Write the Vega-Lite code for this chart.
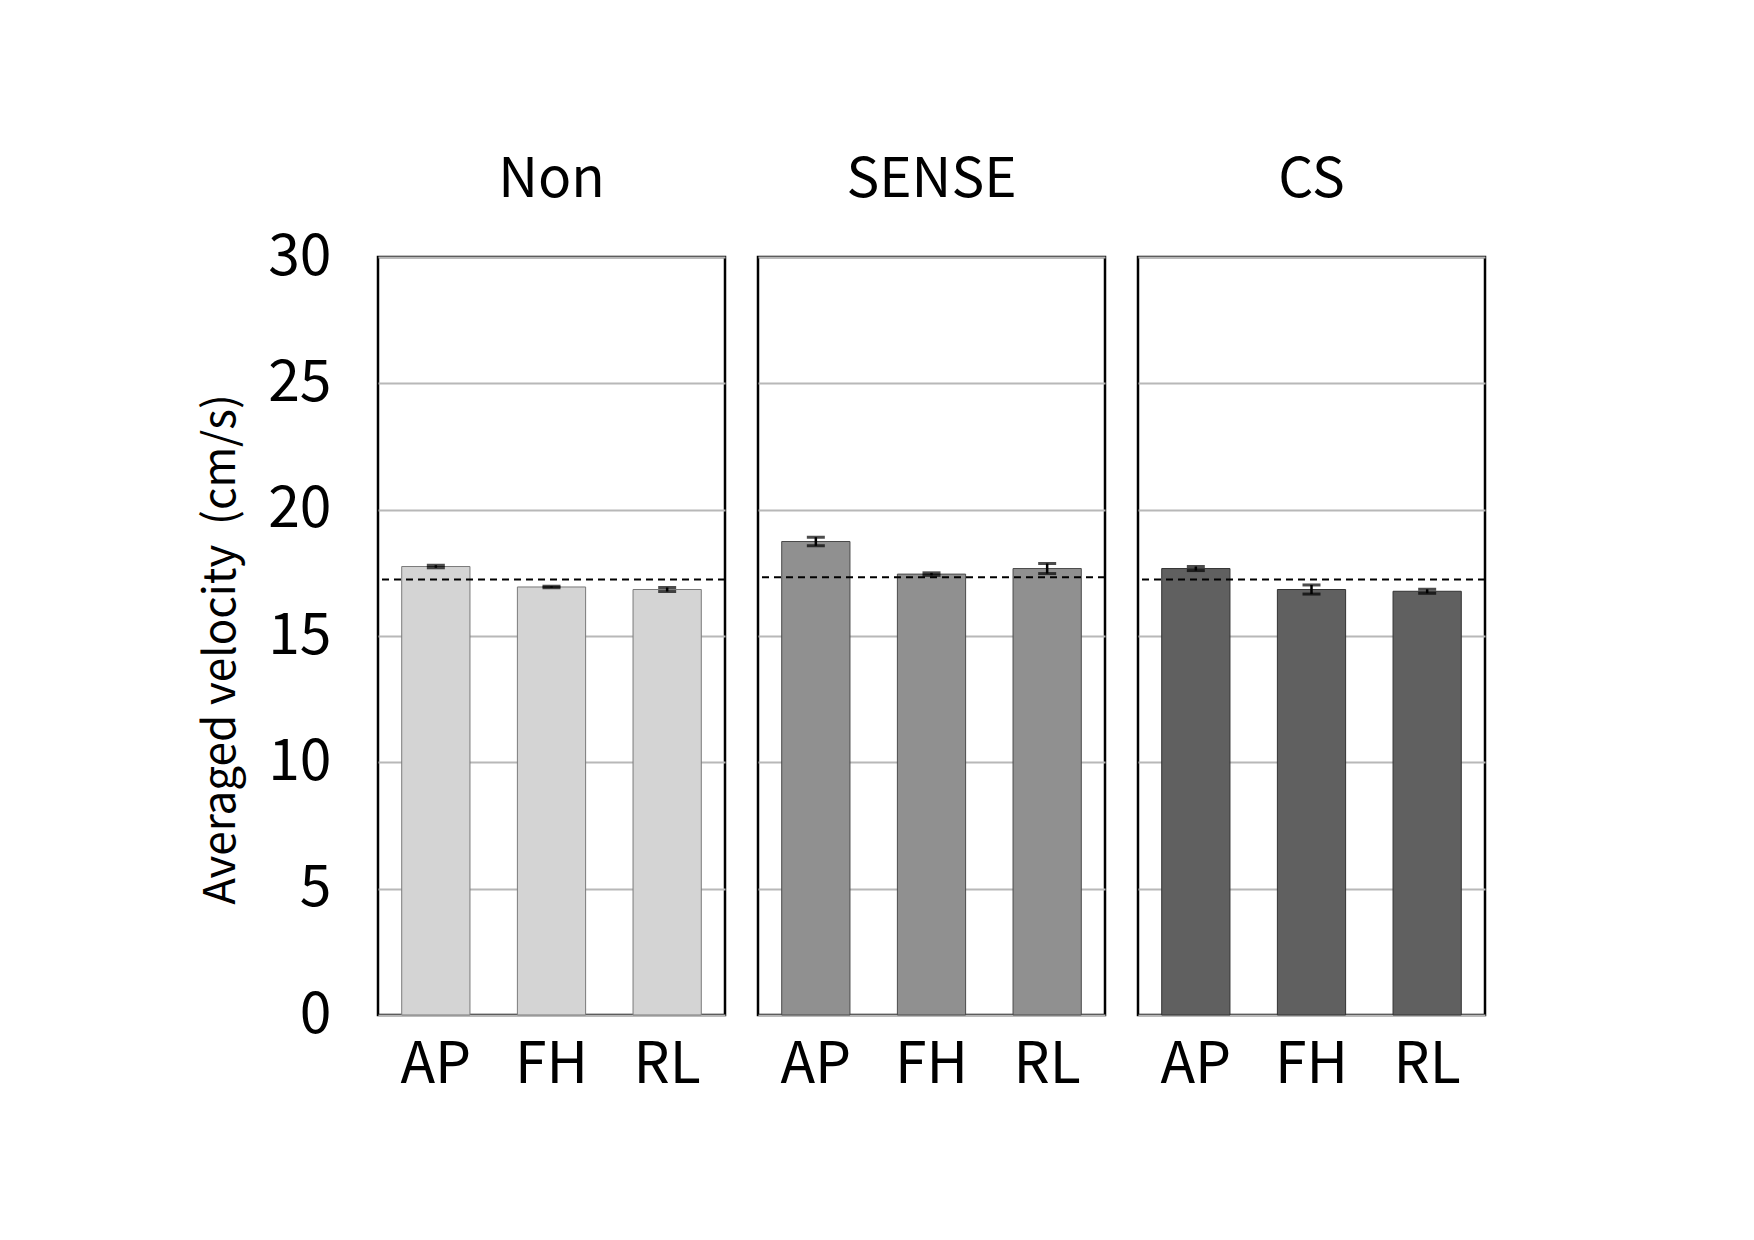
{
  "$schema": "https://vega.github.io/schema/vega-lite/v6.json",
  "padding": {"left": 199, "top": 153, "right": 20, "bottom": 20},
  "background": "white",
  "data": {
    "values": [
      {"method": "Non", "pos": "AP", "value": 17.75, "lo": 17.70, "hi": 17.80, "ref": 17.24},
      {"method": "Non", "pos": "FH", "value": 16.94, "lo": 16.91, "hi": 16.97, "ref": 17.24},
      {"method": "Non", "pos": "RL", "value": 16.84, "lo": 16.76, "hi": 16.92, "ref": 17.24},
      {"method": "SENSE", "pos": "AP", "value": 18.74, "lo": 18.57, "hi": 18.91, "ref": 17.33},
      {"method": "SENSE", "pos": "FH", "value": 17.45, "lo": 17.40, "hi": 17.50, "ref": 17.33},
      {"method": "SENSE", "pos": "RL", "value": 17.67, "lo": 17.47, "hi": 17.87, "ref": 17.33},
      {"method": "CS", "pos": "AP", "value": 17.67, "lo": 17.59, "hi": 17.75, "ref": 17.24},
      {"method": "CS", "pos": "FH", "value": 16.84, "lo": 16.66, "hi": 17.02, "ref": 17.24},
      {"method": "CS", "pos": "RL", "value": 16.77, "lo": 16.69, "hi": 16.85, "ref": 17.24}
    ]
  },
  "facet": {
    "column": {
      "field": "method",
      "type": "nominal",
      "sort": ["Non", "SENSE", "CS"],
      "header": {
        "title": null,
        "labelFontSize": 55,
        "labelFont": "Noto Sans CJK JP",
        "labelColor": "black",
        "labelPadding": 46
      }
    }
  },
  "spacing": 27,
  "spec": {
    "width": 347,
    "height": 758,
    "layer": [
      {
        "mark": {"type": "bar", "strokeWidth": 1},
        "encoding": {
          "x": {"field": "pos", "type": "nominal", "sort": ["AP", "FH", "RL"],
                "scale": {"paddingInner": 0.41, "paddingOuter": 0.205},
                "axis": {"title": null, "labelAngle": 0, "labelFontSize": 57, "labelFont": "Noto Sans CJK JP",
                         "labelColor": "black", "ticks": false, "tickSize": 0, "domain": false, "labelPadding": 22}},
          "y": {"field": "value", "type": "quantitative",
                "scale": {"domain": [0, 30]},
                "axis": {"title": "Averaged velocity\u00a0\u00a0(cm/s)", "values": [0, 5, 10, 15, 20, 25, 30],
                         "labelFontSize": 57, "labelFont": "Noto Sans CJK JP", "labelColor": "black",
                         "titleFontSize": 44, "titleFont": "Noto Sans CJK JP", "titleFontWeight": "normal",
                         "titleColor": "black", "titlePadding": 24, "titleY": 392,
                         "ticks": false, "tickSize": 0, "domain": false, "labelPadding": 44,
                         "grid": true, "gridColor": "#b8b8b8", "gridWidth": 2}},
          "color": {"field": "method", "type": "nominal", "legend": null,
                    "scale": {"domain": ["Non", "SENSE", "CS"], "range": ["#d4d4d4", "#909090", "#606060"]}},
          "stroke": {"field": "method", "type": "nominal", "legend": null,
                     "scale": {"domain": ["Non", "SENSE", "CS"], "range": ["#7a7a7a", "#4a4a4a", "#333333"]}}
        }
      },
      {
        "mark": {"type": "rule", "color": "black", "strokeWidth": 2.5},
        "encoding": {
          "x": {"field": "pos", "type": "nominal", "sort": ["AP", "FH", "RL"]},
          "y": {"field": "lo", "type": "quantitative"},
          "y2": {"field": "hi"}
        }
      },
      {
        "mark": {"type": "tick", "color": "black", "thickness": 3, "size": 18},
        "encoding": {
          "x": {"field": "pos", "type": "nominal", "sort": ["AP", "FH", "RL"]},
          "y": {"field": "lo", "type": "quantitative"}
        }
      },
      {
        "mark": {"type": "tick", "color": "black", "thickness": 3, "size": 18},
        "encoding": {
          "x": {"field": "pos", "type": "nominal", "sort": ["AP", "FH", "RL"]},
          "y": {"field": "hi", "type": "quantitative"}
        }
      },
      {
        "mark": {"type": "rule", "color": "black", "strokeWidth": 2, "strokeDash": [7, 5]},
        "encoding": {
          "y": {"aggregate": "mean", "field": "ref", "type": "quantitative"}
        }
      }
    ]
  },
  "resolve": {"scale": {"x": "independent"}},
  "config": {
    "view": {"stroke": "black", "strokeWidth": 2.5},
    "font": "Noto Sans CJK JP"
  }
}
